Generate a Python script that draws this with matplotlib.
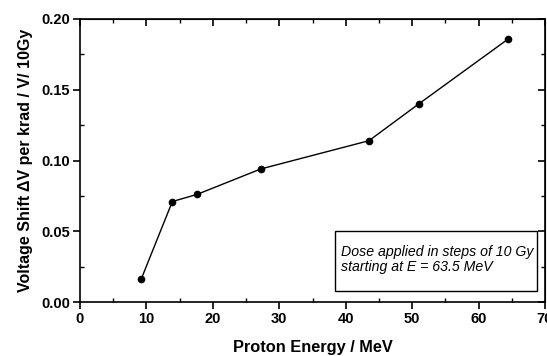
import matplotlib
matplotlib.use("Agg")
import matplotlib.pyplot as plt
from matplotlib.ticker import MultipleLocator
from matplotlib.patches import Rectangle

energy = [9.2, 13.9, 17.6, 27.2, 43.5, 51.0, 64.5]
shift = [0.016, 0.071, 0.076, 0.094, 0.114, 0.140, 0.186]

x_ticks = [0, 10, 20, 30, 40, 50, 60, 70]
y_ticks = [0.00, 0.05, 0.10, 0.15, 0.20]
y_labels = ["0.00", "0.05", "0.10", "0.15", "0.20"]

plt.rcParams['font.family'] = ['Liberation Sans', 'DejaVu Sans']

W, H = 547, 356
fig = plt.figure(figsize=(W / 100, H / 100), dpi=100)
L, R, T, B = 80, 545, 19, 302
ax = fig.add_axes([L / W, 1 - B / H, (R - L) / W, (B - T) / H])

ax.plot(energy, shift, color='black', lw=1.0, marker='o', ms=4.5,
        mfc='black', mec='black', clip_on=False, zorder=3)

ax.set_xlim(0, 70)
ax.set_ylim(0, 0.20)
ax.set_xticks(x_ticks)
ax.set_yticks(y_ticks)
ax.set_yticklabels(y_labels)
ax.xaxis.set_minor_locator(MultipleLocator(5))
ax.yaxis.set_minor_locator(MultipleLocator(0.025))

for s in ax.spines.values():
    s.set_linewidth(1.2)

ax.tick_params(which='major', direction='out', length=5, width=1.2,
               labelsize=10.5, pad=2)
ax.tick_params(which='minor', direction='in', length=3, width=1.0)
for lab in ax.get_xticklabels() + ax.get_yticklabels():
    lab.set_fontweight('bold')

top = ax.secondary_xaxis('top')
top.set_xticks(x_ticks)
top.xaxis.set_minor_locator(MultipleLocator(5))
top.tick_params(which='major', direction='in', length=5, width=1.2, labeltop=False)
top.tick_params(which='minor', direction='in', length=3, width=1.0)
right = ax.secondary_yaxis('right')
right.set_yticks(y_ticks)
right.yaxis.set_minor_locator(MultipleLocator(0.025))
right.tick_params(which='major', direction='in', length=5, width=1.2, labelright=False)
right.tick_params(which='minor', direction='in', length=3, width=1.0)

ax.set_xlabel("Proton Energy / MeV", fontsize=11.8, fontweight='bold', labelpad=10)
ax.set_ylabel("Voltage Shift \u0394V per krad / V/ 10Gy", fontsize=11.5,
              fontweight='bold', labelpad=6)

ax.add_patch(Rectangle((0.548, 0.039), 0.435, 0.212, transform=ax.transAxes,
                       fc='white', ec='black', lw=1.0, zorder=4))
ax.text(0.561, 0.150, "Dose applied in steps of 10 Gy\nstarting at E = 63.5 MeV",
        transform=ax.transAxes, fontsize=10.2, style='italic', va='center', ha='left',
        linespacing=1.1, zorder=5)

fig.savefig("out.png", dpi=100)
